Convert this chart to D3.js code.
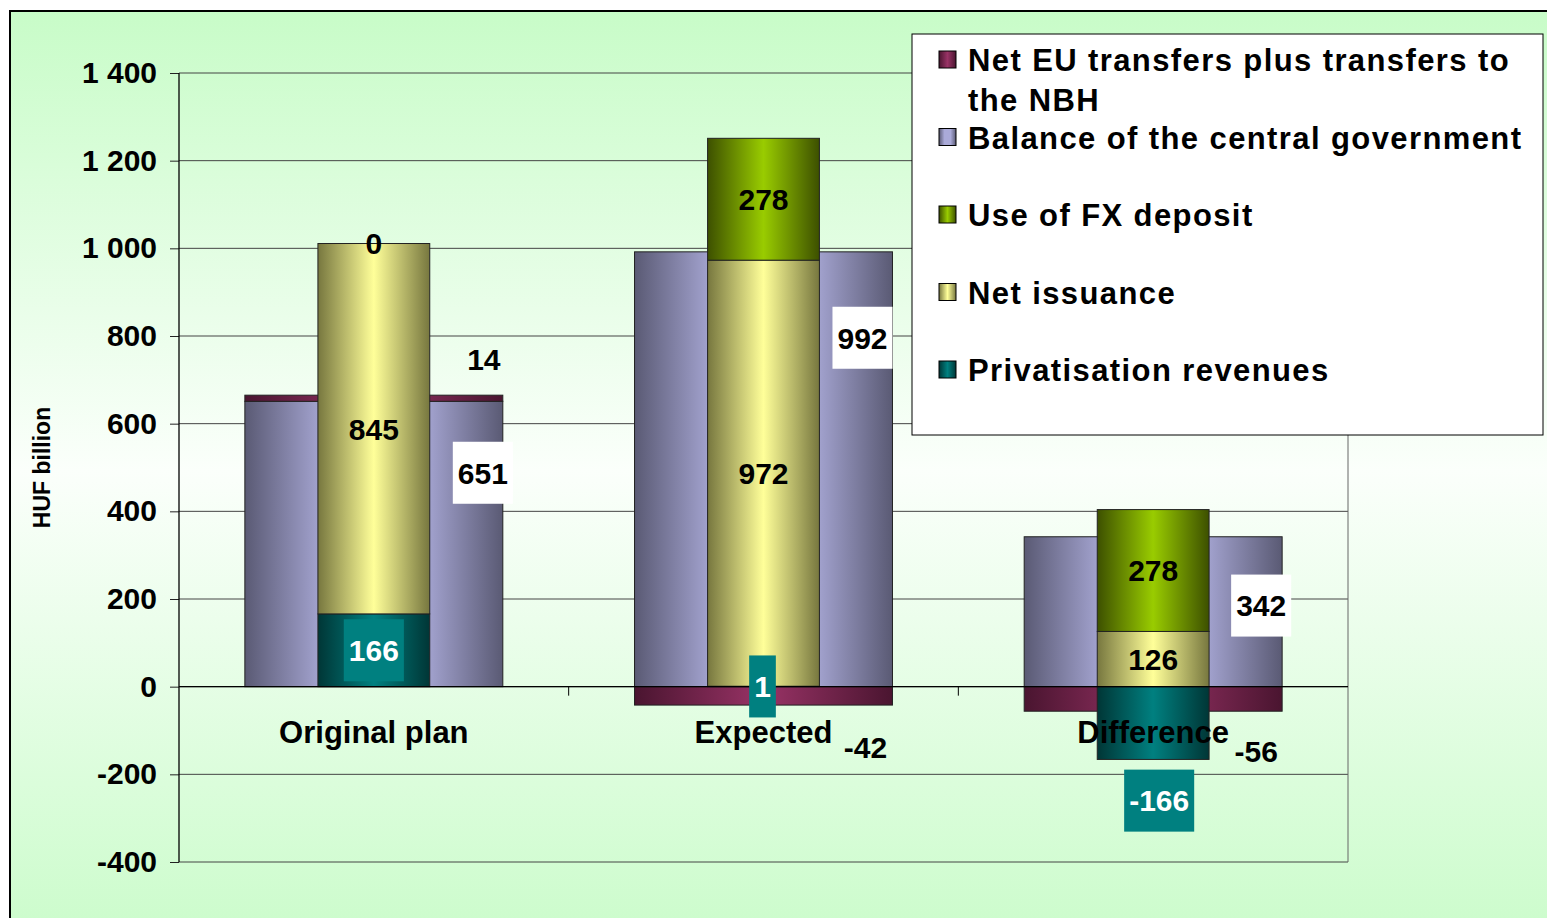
<!DOCTYPE html>
<html>
<head>
<meta charset="utf-8">
<script src="https://cdn.jsdelivr.net/npm/d3@7"></script>
<style>
  body { margin: 0; background: #fff; }
  svg { display: block; font-family: "Liberation Sans", Arial, sans-serif; font-weight: bold; }
</style>
</head>
<body>
<svg id="chart" width="1547" height="918"></svg>
<script>
// data
var categories = ["Original plan", "Expected", "Difference"];
var netEU = [14, -42, -56];
var balance = [651, 992, 342];
var fxDeposit = [0, 278, 278];
var netIssuance = [845, 972, 126];
var privatisation = [166, 1, -166];
var yTicks = [-400, -200, 0, 200, 400, 600, 800, 1000, 1200, 1400];

var legendNames = ["Net EU transfers plus transfers to the NBH", "Balance of the central government",
  "Use of FX deposit", "Net issuance", "Privatisation revenues"];

// label placement (value units / px), set by hand in the original chart
var balanceLabelAt = [488, 796, 185];
var balanceLabelDx = [109, 99, 108];
var euLabelAt = [748, -137, -148];
var euLabelDx = [110, 102, 103];
var privLabelAt = [null, null, -260];
var privLabelDx = [0, -1, 6];

var colors = {
  eu: ["#4a1530", "#993366"],
  balance: ["#5a5a74", "#aaaad8"],
  fx: ["#3d5000", "#99cc00"],
  issuance: ["#77773f", "#ffff99"],
  priv: ["#003636", "#008080"]
};

var svg = d3.select("#chart");
var defs = svg.append("defs");

// background frame
var bg = defs.append("linearGradient").attr("id", "bg").attr("x1", 0).attr("y1", 0).attr("x2", 0).attr("y2", 1);
bg.append("stop").attr("offset", "0%").attr("stop-color", "#c8fcc8");
bg.append("stop").attr("offset", "50%").attr("stop-color", "#fbfffb");
bg.append("stop").attr("offset", "100%").attr("stop-color", "#ccfccc");

svg.append("rect")
  .attr("x", 10).attr("y", 11).attr("width", 1560).attr("height", 920)
  .attr("fill", "url(#bg)").attr("stroke", "#000").attr("stroke-width", 2);

Object.keys(colors).forEach(function(k) {
  var g = defs.append("linearGradient").attr("id", "g-" + k).attr("x1", 0).attr("x2", 1).attr("y1", 0).attr("y2", 0);
  var wide = (k == "balance");
  g.append("stop").attr("offset", "0%").attr("stop-color", colors[k][0]);
  g.append("stop").attr("offset", wide ? "32%" : "50%").attr("stop-color", colors[k][1]);
  g.append("stop").attr("offset", wide ? "68%" : "50%").attr("stop-color", colors[k][1]);
  g.append("stop").attr("offset", "100%").attr("stop-color", colors[k][0]);
});

var margin = {top: 73, left: 179, right: 1348, bottom: 862};

var x = d3.scaleBand().domain(categories).range([margin.left, margin.right]).padding(0);
var y = d3.scaleLinear().domain([-400, 1400]).range([margin.bottom, margin.top]);

var fmt = d3.formatLocale({decimal: ".", thousands: " ", grouping: [3], currency: ["", ""], minus: "-"}).format(",d");

// gridlines + y axis
svg.append("g")
  .attr("transform", "translate(" + margin.left + ",0)")
  .call(d3.axisLeft(y).tickValues(yTicks).tickSize(9).tickPadding(13).tickFormat(fmt))
  .call(g => g.select(".domain").remove())
  .call(g => g.selectAll(".tick line").attr("stroke", "#222"))
  .call(g => g.selectAll(".tick text").attr("font-size", "30px").attr("fill", "#000")
    .attr("font-family", "Liberation Sans, Arial, sans-serif").attr("font-weight", "bold"));

svg.append("g")
  .selectAll("line")
  .data(yTicks)
  .enter().append("line")
  .attr("x1", margin.left).attr("x2", margin.right)
  .attr("y1", function(d) { return y(d); }).attr("y2", function(d) { return y(d); })
  .attr("stroke", "#444").attr("stroke-width", 1);

svg.append("line")
  .attr("x1", margin.left).attr("x2", margin.left)
  .attr("y1", margin.top).attr("y2", margin.bottom)
  .attr("stroke", "#000").attr("stroke-width", 1.3);
svg.append("line")
  .attr("x1", margin.right).attr("x2", margin.right)
  .attr("y1", margin.top).attr("y2", margin.bottom)
  .attr("stroke", "#666").attr("stroke-width", 1);

svg.append("text")
  .attr("transform", "translate(50," + ((margin.top + margin.bottom) / 2) + ") rotate(-90)")
  .attr("text-anchor", "middle")
  .attr("font-size", "23px")
  .text("HUF billion");

// stacked data
var rows = categories.map(function(c, i) {
  return {cat: c, balance: balance[i], eu: netEU[i], priv: privatisation[i], issuance: netIssuance[i], fx: fxDeposit[i]};
});

var wideStack = d3.stack().keys(["balance", "eu"]).offset(d3.stackOffsetDiverging)(rows);
var narrowStack = d3.stack().keys(["priv", "issuance", "fx"]).offset(d3.stackOffsetDiverging)(rows);

var wideW = x.bandwidth() * 0.662;
var narrowW = x.bandwidth() * 0.287;

function drawStack(stack, w) {
  stack.forEach(function(layer) {
    svg.append("g").selectAll("rect")
      .data(layer)
      .enter().append("rect")
      .attr("x", function(d) { return x(d.data.cat) + x.bandwidth() / 2 - w / 2; })
      .attr("width", w)
      .attr("y", function(d) { return y(Math.max(d[0], d[1])); })
      .attr("height", function(d) { return Math.abs(y(d[0]) - y(d[1])); })
      .attr("fill", "url(#g-" + layer.key + ")")
      .attr("stroke", "#222").attr("stroke-width", 1);
  });
}
drawStack(wideStack, wideW);
drawStack(narrowStack, narrowW);

// zero axis with category ticks
svg.append("line")
  .attr("x1", margin.left).attr("x2", margin.right)
  .attr("y1", y(0)).attr("y2", y(0))
  .attr("stroke", "#000").attr("stroke-width", 1.3);
svg.append("g").selectAll("line")
  .data(categories.slice(1))
  .enter().append("line")
  .attr("x1", function(d) { return x(d); }).attr("x2", function(d) { return x(d); })
  .attr("y1", y(0)).attr("y2", y(0) + 9)
  .attr("stroke", "#000");

// data labels
function cx(i) { return x(categories[i]) + x.bandwidth() / 2; }

function label(px, py, txt, opts) {
  opts = opts || {};
  var g = svg.append("g");
  var box = g.append("rect");
  var t = g.append("text")
    .attr("x", px).attr("y", py).attr("dy", "0.36em")
    .attr("text-anchor", "middle")
    .attr("font-size", "30px")
    .attr("fill", opts.color || "#000")
    .text(txt);
  if (opts.bg) {
    var bb = t.node().getBBox();
    box.attr("x", px - bb.width / 2 - 5).attr("y", py - 31)
      .attr("width", bb.width + 10).attr("height", 62)
      .attr("fill", opts.bg);
  } else {
    box.remove();
  }
}

narrowStack.forEach(function(layer, li) {
  layer.forEach(function(d, i) {
    var v = d.data[layer.key];
    var at = (d[0] + d[1]) / 2;
    // an empty segment sits on top of the positive part of the stack
    if (v == 0) at = narrowStack[li - 1][i][1];
    if (layer.key == "priv") {
      if (privLabelAt[i] != null) at = privLabelAt[i];
      label(cx(i) + privLabelDx[i], y(at), v, {color: "#fff", bg: "#008080"});
    } else {
      label(cx(i), y(at), v);
    }
  });
});

balance.forEach(function(v, i) {
  label(cx(i) + balanceLabelDx[i], y(balanceLabelAt[i]), v, {bg: "#fff"});
});
netEU.forEach(function(v, i) {
  label(cx(i) + euLabelDx[i], y(euLabelAt[i]), v);
});

// category labels
svg.append("g").selectAll("text")
  .data(categories)
  .enter().append("text")
  .attr("x", function(d) { return x(d) + x.bandwidth() / 2; })
  .attr("y", y(0) + 56)
  .attr("text-anchor", "middle")
  .attr("font-size", "31px")
  .text(function(d) { return d; });

// legend
var legend = svg.append("g").attr("transform", "translate(912,34)");
legend.append("rect")
  .attr("width", 631).attr("height", 401)
  .attr("fill", "#fff").attr("stroke", "#000").attr("stroke-width", 1);

var legendKeys = ["eu", "balance", "fx", "issuance", "priv"];
legendKeys.forEach(function(k, i) {
  var ly = 26 + i * 77.5;
  legend.append("rect")
    .attr("x", 27).attr("y", ly - 9).attr("width", 17).attr("height", 17)
    .attr("fill", "url(#g-" + k + ")").attr("stroke", "#000").attr("stroke-width", 1);
  var t = legend.append("text")
    .attr("x", 56).attr("y", ly).attr("dy", "0.36em")
    .attr("font-size", "31px")
    .attr("letter-spacing", "1.4px");
  if (i == 0) {
    t.append("tspan").attr("x", 56).text("Net EU transfers plus transfers to");
    t.append("tspan").attr("x", 56).attr("dy", 40).text("the NBH");
  } else {
    t.text(legendNames[i]);
  }
});
</script>
</body>
</html>
